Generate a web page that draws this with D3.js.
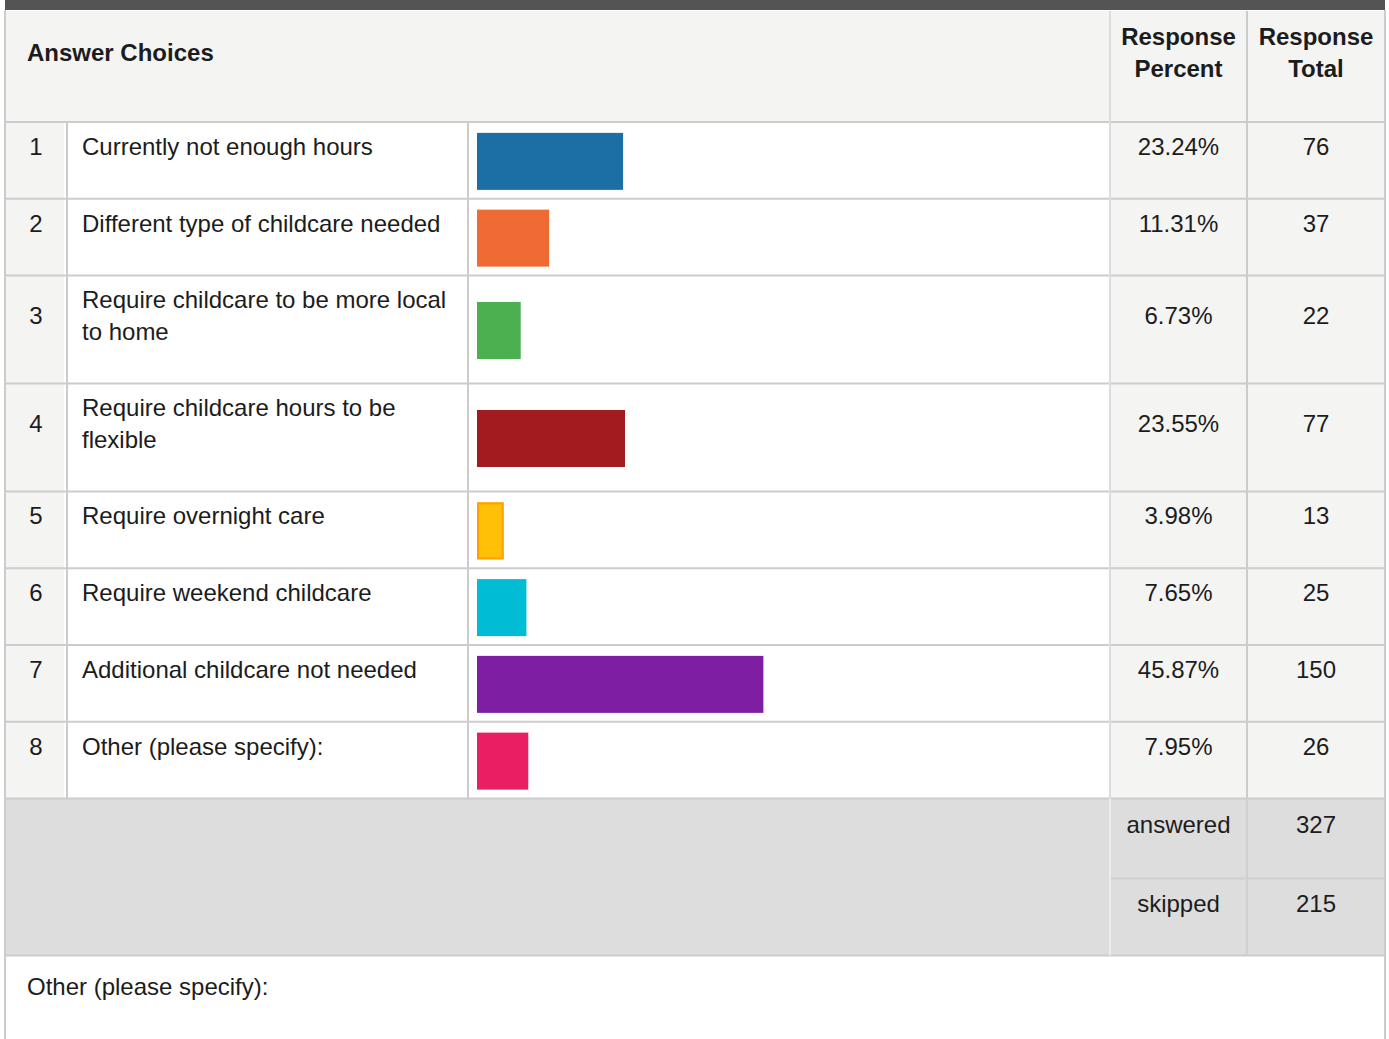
<!DOCTYPE html>
<html>
<head>
<meta charset="utf-8">
<script src="https://cdn.jsdelivr.net/npm/d3@7"></script>
<style>
    body { margin: 0; background: #fff; }
    text { font-family: "Liberation Sans", Arial, sans-serif; fill: #1c1c1c; }
</style>
</head>
<body>
<div class="drawingArea"></div>
<script>
// Data
var choices = [
    "Currently not enough hours",
    "Different type of childcare needed",
    "Require childcare to be more local to home",
    "Require childcare hours to be flexible",
    "Require overnight care",
    "Require weekend childcare",
    "Additional childcare not needed",
    "Other (please specify):"
];
var percents = [23.24, 11.31, 6.73, 23.55, 3.98, 7.65, 45.87, 7.95];
var totals = [76, 37, 22, 77, 13, 25, 150, 26];
var barColors = ["#1c6fa5", "#f06a33", "#4caf50", "#a21c1f", "#ffc107", "#00bcd4", "#7e1fa3", "#e91e63"];
var barStrokes = [null, null, null, null, "#ffa000", null, null, null];
var summaryLabels = ["answered", "skipped"];
var summaryValues = [327, 215];

// Layout
var width = 1389, height = 1039;
var cols = [5, 67, 468, 1110, 1247, 1385];
var headerTop = 11, headerBottom = 122;
var lineHeight = 32;
var fontSize = 24;
var gridColor = "#cccccc";

var svg = d3.select(".drawingArea").append("svg")
    .attr("width", width)
    .attr("height", height);

var x = d3.scaleLinear().domain([0, 100]).range([0, 620]);

// wrap labels to the text column
var measure = svg.append("text").style("font-size", fontSize + "px");
function wrap(str, maxW) {
    var words = str.split(" "), lines = [], cur = "";
    words.forEach(function(w) {
        var test = cur ? cur + " " + w : w;
        measure.text(test);
        if (measure.node().getComputedTextLength() > maxW && cur) {
            lines.push(cur);
            cur = w;
        } else {
            cur = test;
        }
    });
    lines.push(cur);
    return lines;
}
var wrapped = choices.map(function(c) { return wrap(c, 374); });
measure.remove();

// row positions
var rows = [];
var yPos = headerBottom;
wrapped.forEach(function(lines, i) {
    var h = 76.75 + 31.25 * (lines.length - 1);
    rows.push({i: i, top: yPos, h: h, lines: lines});
    yPos += h;
});
var tableBottom = yPos;
var summaryRows = [
    {top: tableBottom, h: 80},
    {top: tableBottom + 80, h: 77}
];
var summaryBottom = tableBottom + 157;

// backgrounds
var bg = svg.append("g");
bg.append("rect").attr("x", 5).attr("y", 0).attr("width", 1380).attr("height", 10).attr("fill", "#545454");
bg.append("rect").attr("x", cols[0]).attr("y", headerTop).attr("width", cols[5] - cols[0]).attr("height", headerBottom - headerTop).attr("fill", "#f4f4f3");
bg.append("rect").attr("x", cols[0]).attr("y", headerBottom).attr("width", cols[1] - cols[0] - 3).attr("height", tableBottom - headerBottom).attr("fill", "#f4f4f3");
bg.append("rect").attr("x", cols[3]).attr("y", headerBottom).attr("width", cols[5] - cols[3]).attr("height", tableBottom - headerBottom).attr("fill", "#f4f4f3");
bg.append("rect").attr("x", cols[0]).attr("y", tableBottom).attr("width", cols[5] - cols[0]).attr("height", summaryBottom - tableBottom).attr("fill", "#dddddd");

// grid lines
var grid = svg.append("g").attr("stroke", gridColor).attr("stroke-width", 2);
function hline(y, x1, x2, c) {
    grid.append("line").attr("x1", x1).attr("x2", x2).attr("y1", y).attr("y2", y).attr("stroke", c || gridColor);
}
function vline(xv, y1, y2, c) {
    grid.append("line").attr("x1", xv).attr("x2", xv).attr("y1", y1).attr("y2", y2).attr("stroke", c || gridColor);
}
rows.forEach(function(r) { hline(r.top, cols[0], cols[5]); });
hline(tableBottom, cols[0], cols[5]);
hline(summaryRows[1].top, cols[3], cols[5], "#cfcfcf");
hline(summaryBottom, cols[0], cols[5]);
vline(cols[1], headerBottom, tableBottom);
vline(cols[2], headerBottom, tableBottom);
vline(cols[3], headerTop, tableBottom, "#dcdcdc");
vline(cols[3], tableBottom, summaryBottom, "#ececec");
vline(cols[4], headerTop, tableBottom);
vline(cols[4], tableBottom, summaryBottom, "#d0d0d0");
vline(cols[0], 10, height);
vline(cols[5], 10, height);

// text helper: block of lines centred on (row centre - 14)
function cellText(g, lines, xv, rowTop, rowH, anchor, bold) {
    var c = rowTop + rowH / 2 - 14;
    var base = c - (lines.length - 1) * lineHeight / 2 + 8.6;
    var t = g.append("text")
        .attr("text-anchor", anchor)
        .style("font-size", fontSize + "px")
        .style("font-weight", bold ? "bold" : "normal");
    lines.forEach(function(l, k) {
        t.append("tspan").attr("x", xv).attr("y", base + k * lineHeight).text(l);
    });
}

// header
var header = svg.append("g");
cellText(header, ["Answer Choices"], 27, headerTop, headerBottom - headerTop, "start", true);
cellText(header, ["Response", "Percent"], (cols[3] + cols[4]) / 2, headerTop, headerBottom - headerTop, "middle", true);
cellText(header, ["Response", "Total"], (cols[4] + cols[5]) / 2, headerTop, headerBottom - headerTop, "middle", true);

// rows
var body = svg.append("g");
rows.forEach(function(r) {
    cellText(body, [String(r.i + 1)], (cols[0] + cols[1]) / 2, r.top, r.h, "middle", false);
    cellText(body, r.lines, cols[1] + 15, r.top, r.h, "start", false);
    cellText(body, [percents[r.i].toFixed(2) + "%"], (cols[3] + cols[4]) / 2, r.top, r.h, "middle", false);
    cellText(body, [String(totals[r.i])], (cols[4] + cols[5]) / 2, r.top, r.h, "middle", false);
});

// bars
var barH = 57;
svg.append("g").selectAll("rect")
    .data(rows)
    .enter().append("rect")
    .attr("x", cols[2] + 9)
    .attr("y", function(d) { return d.top + d.h / 2 - barH / 2 + 1; })
    .attr("width", function(d) { return x(percents[d.i]) + 2; })
    .attr("height", barH)
    .attr("fill", function(d) { return barColors[d.i]; });
svg.append("g").selectAll("rect")
    .data(rows.filter(function(d) { return barStrokes[d.i]; }))
    .enter().append("rect")
    .attr("x", cols[2] + 10)
    .attr("y", function(d) { return d.top + d.h / 2 - barH / 2 + 2; })
    .attr("width", function(d) { return x(percents[d.i]); })
    .attr("height", barH - 2)
    .attr("fill", "none")
    .attr("stroke", function(d) { return barStrokes[d.i]; })
    .attr("stroke-width", 2);

// summary
var summary = svg.append("g");
summaryRows.forEach(function(r, k) {
    cellText(summary, [summaryLabels[k]], (cols[3] + cols[4]) / 2, r.top, r.h, "middle", false);
    cellText(summary, [String(summaryValues[k])], (cols[4] + cols[5]) / 2, r.top, r.h, "middle", false);
});

// footer
svg.append("text")
    .attr("x", 27)
    .attr("y", summaryBottom + 39)
    .style("font-size", fontSize + "px")
    .text("Other (please specify):");
</script>
</body>
</html>
